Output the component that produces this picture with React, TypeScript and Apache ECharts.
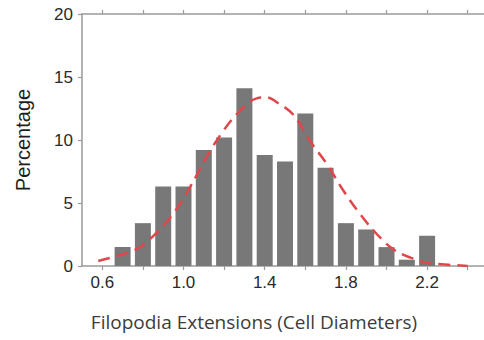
import React, { useEffect, useRef } from "react";
import * as echarts from "echarts";

const binCenters = [0.7, 0.8, 0.9, 1.0, 1.1, 1.2, 1.3, 1.4, 1.5, 1.6, 1.7, 1.8, 1.9, 2.0, 2.1, 2.2];
const percentages = [1.5, 3.4, 6.3, 6.3, 9.2, 10.2, 14.1, 8.8, 8.3, 12.1, 7.8, 3.4, 2.9, 1.5, 0.5, 2.4];

const fitX = [0.58, 0.7, 0.78, 0.865, 0.947, 1.03, 1.112, 1.195, 1.277, 1.36, 1.41, 1.459, 1.541, 1.624, 1.706, 1.789, 1.871, 1.954, 2.036, 2.119, 2.2, 2.28, 2.4];
const fitY = [0.4, 0.93, 1.45, 2.6, 4.1, 6.2, 8.6, 10.7, 12.3, 13.3, 13.38, 13.0, 12.0, 9.9, 8.1, 5.95, 4.1, 2.5, 1.3, 0.66, 0.26, 0.13, 0.0];

const xTickValues = [0.6, 0.8, 1.0, 1.2, 1.4, 1.6, 1.8, 2.0, 2.2, 2.4];
const xLabelValues = [0.6, 1.0, 1.4, 1.8, 2.2];
const yTicks = [0, 5, 10, 15, 20];

const xTitle = "Filopodia Extensions (Cell Diameters)";
const yTitle = "Percentage";

export default function App() {
  const ref = useRef<HTMLDivElement>(null);
  useEffect(() => {
    if (!ref.current) return;
    const chart = echarts.init(ref.current, null, { renderer: "svg" });
    const axisColor = "#9a9a9a";
    chart.setOption({
      animation: false,
      backgroundColor: "#ffffff",
      grid: { left: 82, top: 14, bottom: 74, right: 2, containLabel: false },
      graphic: [
        {
          type: "text",
          x: 254,
          y: 322,
          style: {
            text: xTitle,
            fill: "#3c3c3c",
            font: '19px "Open Sans"',
            align: "center",
            verticalAlign: "middle",
          },
        },
      ],
      xAxis: [
        {
          type: "value",
          min: 0.5,
          max: 2.5,
          position: "bottom",
          splitLine: { show: false },
          axisLine: { show: true, lineStyle: { color: axisColor, width: 1.5 } },
          axisTick: {
            show: true,
            customValues: xTickValues,
            length: 4,
            inside: false,
            lineStyle: { color: axisColor, width: 1.2 },
          },
          axisLabel: {
            customValues: xLabelValues,
            formatter: (v: number) => v.toFixed(1),
            color: "#2a2a2a",
            fontFamily: "Liberation Sans",
            fontSize: 17,
            margin: 8,
          },
        },
        {
          type: "value",
          min: 0.5,
          max: 2.5,
          position: "top",
          splitLine: { show: false },
          axisLine: { show: true, lineStyle: { color: axisColor, width: 1.5 } },
          axisTick: {
            show: true,
            customValues: xTickValues,
            length: 4,
            lineStyle: { color: axisColor, width: 1.2 },
          },
          axisLabel: { show: false },
        },
      ],
      yAxis: {
        type: "value",
        min: 0,
        max: 20,
        interval: 5,
        splitLine: { show: false },
        axisLine: { show: true, lineStyle: { color: axisColor, width: 1.5 } },
        axisTick: { show: true, length: 4, lineStyle: { color: axisColor, width: 1.2 } },
        axisLabel: {
          formatter: (v: number) => (yTicks.includes(v) ? String(v) : ""),
          color: "#2a2a2a",
          fontFamily: "Liberation Sans",
          fontSize: 17,
          margin: 9,
        },
        name: yTitle,
        nameLocation: "middle",
        nameGap: 49,
        nameRotate: 90,
        nameTextStyle: {
          color: "#1e1e1e",
          fontFamily: "Liberation Sans",
          fontSize: 20,
        },
      },
      series: [
        {
          type: "bar",
          xAxisIndex: 0,
          data: binCenters.map((x, i) => [x, percentages[i]]),
          barWidth: 16,
          itemStyle: { color: "#787878" },
        },
        {
          type: "line",
          xAxisIndex: 0,
          data: fitX.map((x, i) => [x, fitY[i]]),
          smooth: 0.4,
          showSymbol: false,
          symbol: "none",
          lineStyle: { color: "#e0464a", width: 2.5, type: [12, 7] },
          z: 5,
        },
      ],
    });
    return () => chart.dispose();
  }, []);
  return (
    <div style={{ position: "fixed", left: 0, top: 0, width: 484, height: 340, overflow: "hidden", background: "#fff" }}>
      <div ref={ref} style={{ width: 490, height: 340 }} />
    </div>
  );
}
